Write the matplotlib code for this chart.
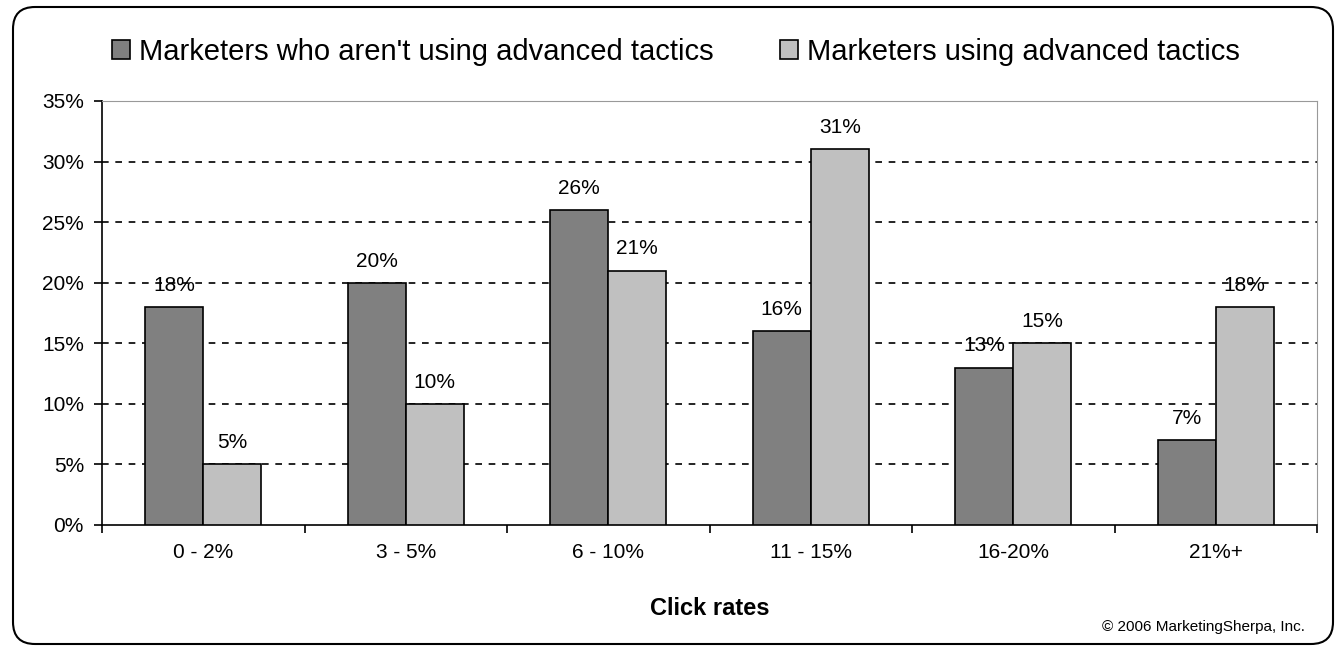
import numpy as np
import matplotlib.pyplot as plt
from matplotlib.patches import FancyBboxPatch

# datos
categorias = ['0 - 2%', '3 - 5%', '6 - 10%', '11 - 15%', '16-20%', '21%+']
sin_avanzadas = [18, 20, 26, 16, 13, 7]
con_avanzadas = [5, 10, 21, 31, 15, 18]
etiquetas_y = ['0%', '5%', '10%', '15%', '20%', '25%', '30%', '35%']

plt.rcParams['font.family'] = ['Liberation Sans', 'DejaVu Sans']

fig = plt.figure(figsize=(13.38, 6.48), dpi=100)
ax = fig.add_axes([102 / 1338, 1 - 525 / 648, 1215 / 1338, 424 / 648])

# marco redondeado (en pulgadas)
marco = FancyBboxPatch((0.13, 0.04), 13.2, 6.37,
                       boxstyle='round,pad=0,rounding_size=0.22',
                       transform=fig.dpi_scale_trans, fill=False,
                       edgecolor='black', linewidth=1.5)
fig.patches.append(marco)

x = np.arange(len(categorias))
ancho = 0.287
b1 = ax.bar(x - ancho / 2, sin_avanzadas, ancho, color='#808080', edgecolor='black',
            linewidth=1.2, label="Marketers who aren't using advanced tactics", zorder=3)
b2 = ax.bar(x + ancho / 2, con_avanzadas, ancho, color='#c0c0c0', edgecolor='black',
            linewidth=1.2, label='Marketers using advanced tactics', zorder=3)

for barras in (b1, b2):
    for b in barras:
        ax.text(b.get_x() + b.get_width() / 2, b.get_height() + 1.0, f'{b.get_height():.0f}%',
                ha='center', va='bottom', fontsize=15)

ax.set_xlim(-0.5, len(categorias) - 0.5)
ax.set_ylim(0, 35)
ax.set_yticks(range(0, 36, 5))
ax.set_yticklabels(etiquetas_y, fontsize=15)
ax.set_xticks(x)
ax.set_xticklabels(categorias, fontsize=15)
ax.tick_params(axis='x', length=0, pad=13)
ax.set_xticks(np.arange(-0.5, len(categorias)), minor=True)
ax.tick_params(axis='x', which='minor', length=6, width=1.2, direction='out')
ax.tick_params(axis='y', length=6, width=1.2, direction='out', pad=7)

for v in range(5, 35, 5):
    ax.axhline(v, color='black', linestyle=(0, (4, 4)), linewidth=1.2, zorder=1)

ax.spines['left'].set_linewidth(1.2)
ax.spines['bottom'].set_linewidth(1.2)
ax.spines['top'].set_color('#999999')
ax.spines['right'].set_color('#999999')

ax.set_xlabel('Click rates', fontsize=17, fontweight='bold', labelpad=25)

fig.legend(handles=[b1, b2], loc='center', bbox_to_anchor=(676 / 1338, 1 - 52 / 648), ncol=2,
           frameon=False, fontsize=21, handlelength=0.6, handleheight=0.6,
           handletextpad=0.3, columnspacing=2.3, borderpad=0, borderaxespad=0)

fig.text(1305 / 1338, 1 - 627 / 648, '© 2006 MarketingSherpa, Inc.', ha='right', va='center',
         fontsize=11)

fig.savefig('out.png', dpi=100)
